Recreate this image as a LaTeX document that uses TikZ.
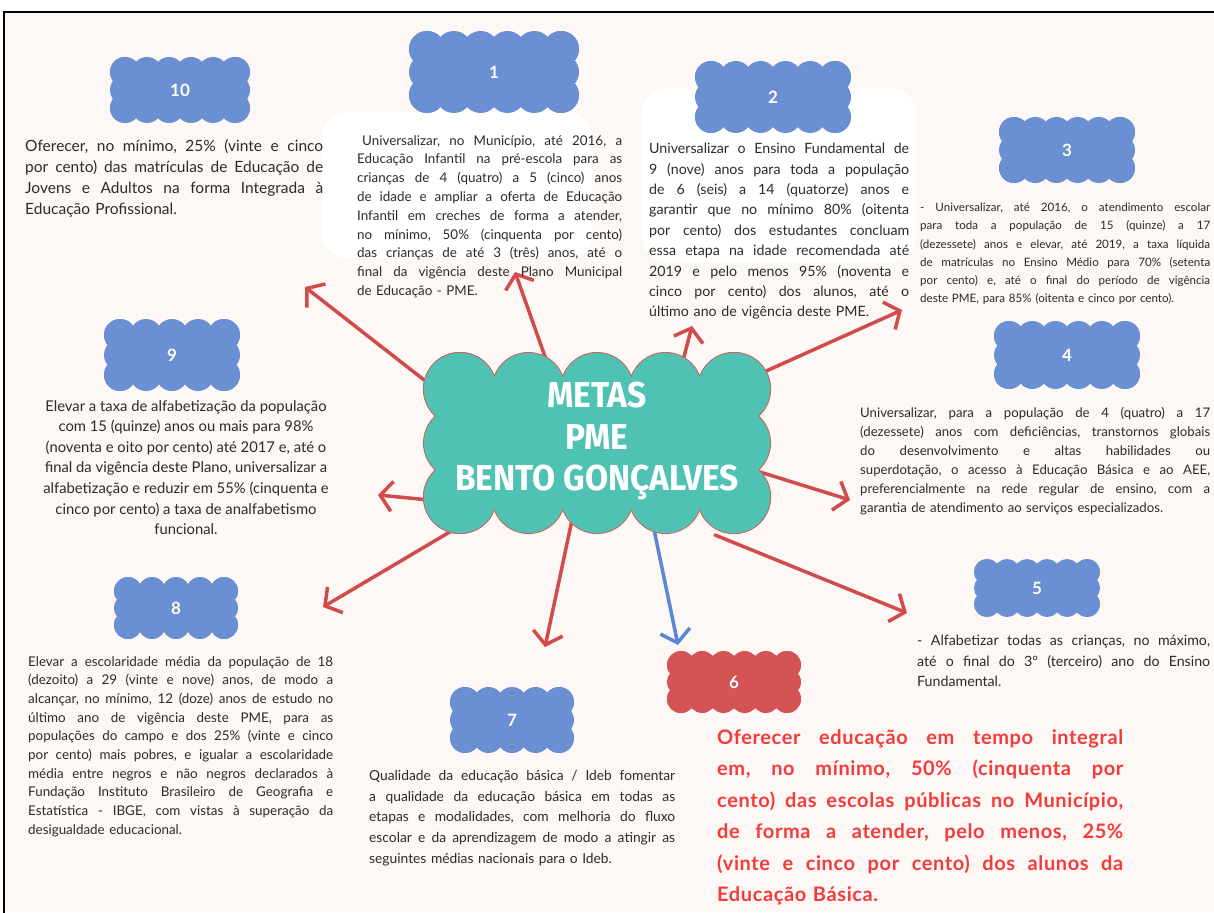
\documentclass[tikz,border=0pt]{standalone}
\usepackage{fontspec}
\setmainfont{Lato}
\newfontfamily\titlefont[FakeStretch=0.93]{Fira Sans}
\usetikzlibrary{arrows.meta}
\pgfdeclarelayer{bg}
\pgfdeclarelayer{arr}
\pgfsetlayers{bg,arr,main}
\setlength\parindent{0pt}
\definecolor{pale}{HTML}{FDF8F5}
\definecolor{cblue}{HTML}{6A8FD2}
\definecolor{ccteal}{HTML}{4FC2B3}
\definecolor{cloudedge}{HTML}{C8645C}
\definecolor{arrred}{HTML}{D14B4B}
\definecolor{arrblue}{HTML}{5B86D8}
\definecolor{cred}{HTML}{D45454}
\definecolor{txt}{HTML}{2E2A28}
\definecolor{redtxt}{HTML}{F23B3B}
% justified line: every space becomes \hfill in a box of the goal width
\ExplSyntaxOn
\tl_new:N \l_jl_tl
\NewDocumentCommand\JL{m}{
  \tl_set:Nn \l_jl_tl {#1}
  \tl_replace_all:Nnn \l_jl_tl { ~ } { \hfill }
  \mode_leave_vertical:
  \hbox_to_wd:nn { \goalW } { \l_jl_tl } \\
}
\ExplSyntaxOff
% scalloped cloud: x, y, w, h, bump radius, bumps per long side, bumps per short side, path options
\newcommand\cbumps[8]{%
  \pgfmathsetmacro\cHX{#3/2-#5}\pgfmathsetmacro\cHY{#4/2-#5}%
  \pgfmathtruncatemacro\cNN{#6-1}\pgfmathtruncatemacro\cMM{#7-1}%
  \foreach \i in {0,...,\cNN}{%
    \pgfmathsetmacro\cXX{#1-\cHX+2*\cHX*\i/\cNN}%
    \path[#8] (\cXX,#2-\cHY) circle[radius=#5] (\cXX,#2+\cHY) circle[radius=#5];}%
  \foreach \j in {0,...,\cMM}{%
    \pgfmathsetmacro\cYY{#2-\cHY+2*\cHY*\j/\cMM}%
    \path[#8] (#1-\cHX,\cYY) circle[radius=#5] (#1+\cHX,\cYY) circle[radius=#5];}%
}
\newcommand\cbody[6]{%
  \fill[#6] (#1-#3/2+#5,#2-#4/2+#5) rectangle (#1+#3/2-#5,#2+#4/2-#5);}
\newcommand\scloud[8]{\cbumps{#1}{#2}{#3}{#4}{#5}{#6}{#7}{fill=#8}\cbody{#1}{#2}{#3}{#4}{#5}{#8}}
\tikzset{
  numlabel/.style={inner sep=0pt, text=white, font=\bfseries\fontsize{17}{17}\selectfont},
  goal/.style={anchor=north west, inner sep=0pt, text=txt, align=left, text width=#1, execute at begin node={\def\goalW{#1}}},
  redarr/.style={draw=arrred, line width=3.5pt, line cap=round, -{Straight Barb[length=12pt,width=30pt]}},
  bluearr/.style={redarr, draw=arrblue},
}
\begin{document}
\begin{tikzpicture}[x=1pt,y=-1pt]
\useasboundingbox (0,0) rectangle (1214,912);
\begin{pgfonlayer}{bg}
\fill[white] (0,0) rectangle (1214,912);
\fill[pale] (4,12) rectangle (1214,912);
\draw[line width=2.2pt] (4,914) -- (4,12) -- (1216,12);
\fill[white, rounded corners=25pt] (322,112) rectangle (592,258);
\fill[white, rounded corners=25pt] (642,88) rectangle (916,262);
\end{pgfonlayer}

% number clouds
\scloud{180}{90}{140}{66}{15}{6}{3}{cblue}
\scloud{494}{72}{170}{82}{18}{6}{3}{cblue}
\scloud{773}{97}{156}{72}{16}{6}{3}{cblue}
\scloud{1067}{150}{136}{66}{15}{6}{3}{cblue}
\scloud{1067}{355}{146}{68}{15}{6}{3}{cblue}
\scloud{172}{355}{136}{72}{16}{5}{3}{cblue}
\scloud{176}{608}{124}{62}{14}{5}{3}{cblue}
\scloud{1037}{588}{126}{58}{13}{6}{3}{cblue}
\scloud{512}{720}{124}{66}{15}{5}{3}{cblue}
\scloud{734}{682}{134}{62}{14}{6}{3}{cred}
\node[numlabel] (n10) at (180,90) {10};
\node[numlabel] (n1) at (494,72) {1};
\node[numlabel] (n2) at (773,97) {2};
\node[numlabel] (n3) at (1067,150) {3};
\node[numlabel] (n4) at (1067,355) {4};
\node[numlabel] (n9) at (172,355) {9};
\node[numlabel] (n8) at (176,608) {8};
\node[numlabel] (n5) at (1037,588) {5};
\node[numlabel] (n7) at (512,720) {7};
\node[numlabel] (n6) at (734,682) {6};

% central cloud: outline pass, then fill pass
\cbumps{597}{443}{346}{180}{36}{5}{3}{draw=cloudedge, line width=2pt}
\scloud{597}{443}{346}{180}{36}{5}{3}{ccteal}
\node[font=\titlefont\bfseries\fontsize{36}{41.5}\selectfont, text=white, align=center] (cc) at (597,441) {METAS\\PME\\BENTO GONÇALVES};

% arrow tips
\coordinate (a10) at (305,287);
\coordinate (a1) at (515,272);
\coordinate (a2) at (692,326);
\coordinate (a3) at (902,310);
\coordinate (a4) at (850,500);
\coordinate (a5) at (907,613);
\coordinate (a6) at (678,645);
\coordinate (a7) at (545,647);
\coordinate (a8) at (323,607);
\coordinate (a9) at (378,495);
\begin{pgfonlayer}{arr}
\draw[redarr] ([shift={(-137,-33)}]cc.center) -- (a10);
\draw[redarr] ([shift={(-49,-76)}]cc.center) -- (a1);
\draw[redarr] ([shift={(83,-69)}]cc.center) -- (a2);
\draw[redarr] ([shift={(138,-56)}]cc.center) -- (a3);
\draw[redarr] ([shift={(163,31)}]cc.center) -- (a4);
\draw[redarr] ([shift={(118,94)}]cc.center) -- (a5);
\draw[bluearr] ([shift={(55,79)}]cc.center) -- (a6);
\draw[redarr] ([shift={(-25,79)}]cc.center) -- (a7);
\draw[redarr] ([shift={(-127,79)}]cc.center) -- (a8);
\draw[redarr] ([shift={(-137,62)}]cc.center) -- (a9);
\end{pgfonlayer}

% texts
\node[goal=298pt, font=\fontsize{15.5}{21}\selectfont] (t10) at (25,139) {\JL{Oferecer, no mínimo, 25\% (vinte e cinco}\JL{por cento) das matrículas de Educação de}\JL{Jovens e Adultos na forma Integrada à}Educação Profissional.};

\node[goal=265pt, font=\fontsize{13.4}{18.8}\selectfont] (t1) at (357,135) {\JL{\hspace*{5pt}Universalizar, no Município, até 2016, a}\JL{Educação Infantil na pré-escola para as}\JL{crianças de 4 (quatro) a 5 (cinco) anos}\JL{de idade e ampliar a oferta de Educação}\JL{Infantil em creches de forma a atender,}\JL{no mínimo, 50\% (cinquenta por cento)}\JL{das crianças de até 3 (três) anos, até o}\JL{final da vigência deste Plano Municipal}de Educação - PME.};

\node[goal=260pt, font=\fontsize{14.2}{20.4}\selectfont] (t2) at (649,143) {\JL{Universalizar o Ensino Fundamental de}\JL{9 (nove) anos para toda a população}\JL{de 6 (seis) a 14 (quatorze) anos e}\JL{garantir que no mínimo 80\% (oitenta}\JL{por cento) dos estudantes concluam}\JL{essa etapa na idade recomendada até}\JL{2019 e pelo menos 95\% (noventa e}\JL{cinco por cento) dos alunos, até o}último ano de vigência deste PME.};

\node[goal=290pt, font=\fontsize{11.6}{18.2}\selectfont] (t3) at (920,203) {\JL{- Universalizar, até 2016, o atendimento escolar}\JL{para toda a população de 15 (quinze) a 17}\JL{(dezessete) anos e elevar, até 2019, a taxa líquida}\JL{de matrículas no Ensino Médio para 70\% (setenta}\JL{por cento) e, até o final do período de vigência}deste PME, para 85\% (oitenta e cinco por cento).};

\node[goal=350pt, font=\fontsize{13.2}{19}\selectfont] (t4) at (860,407) {\JL{Universalizar, para a população de 4 (quatro) a 17}\JL{(dezessete) anos com deficiências, transtornos globais}\JL{do desenvolvimento e altas habilidades ou}\JL{superdotação, o acesso à Educação Básica e ao AEE,}\JL{preferencialmente na rede regular de ensino, com a}garantia de atendimento ao serviços especializados.};

\node[anchor=north, inner sep=0pt, text=txt, align=center, font=\fontsize{14.8}{20.6}\selectfont] (t9) at (186,400) {Elevar a taxa de alfabetização da população\\com 15 (quinze) anos ou mais para 98\%\\(noventa e oito por cento) até 2017 e, até o\\final da vigência deste Plano, universalizar a\\alfabetização e reduzir em 55\% (cinquenta e\\cinco por cento) a taxa de analfabetismo\\funcional.};

\node[goal=305pt, font=\fontsize{13.4}{18.7}\selectfont] (t8) at (28,656) {\JL{Elevar a escolaridade média da população de 18}\JL{(dezoito) a 29 (vinte e nove) anos, de modo a}\JL{alcançar, no mínimo, 12 (doze) anos de estudo no}\JL{último ano de vigência deste PME, para as}\JL{populações do campo e dos 25\% (vinte e cinco}\JL{por cento) mais pobres, e igualar a escolaridade}\JL{média entre negros e não negros declarados à}\JL{Fundação Instituto Brasileiro de Geografia e}\JL{Estatística - IBGE, com vistas à superação da}desigualdade educacional.};

\node[goal=306pt, font=\fontsize{13.8}{20.7}\selectfont] (t7) at (369,770) {\JL{Qualidade da educação básica / Ideb fomentar}\JL{a qualidade da educação básica em todas as}\JL{etapas e modalidades, com melhoria do fluxo}\JL{escolar e da aprendizagem de modo a atingir as}seguintes médias nacionais para o Ideb.};

\node[goal=293pt, font=\fontsize{14.2}{20.5}\selectfont] (t5) at (917,635) {\JL{- Alfabetizar todas as crianças, no máximo,}\JL{até o final do 3º (terceiro) ano do Ensino}Fundamental.};

\node[goal=406pt, text=redtxt, font=\bfseries\fontsize{20}{31.5}\selectfont\addfontfeature{LetterSpace=3}] (t6) at (717,729) {\JL{Oferecer educação em tempo integral}\JL{em, no mínimo, 50\% (cinquenta por}\JL{cento) das escolas públicas no Município,}\JL{de forma a atender, pelo menos, 25\%}\JL{(vinte e cinco por cento) dos alunos da}Educação Básica.};
\end{tikzpicture}
\end{document}
